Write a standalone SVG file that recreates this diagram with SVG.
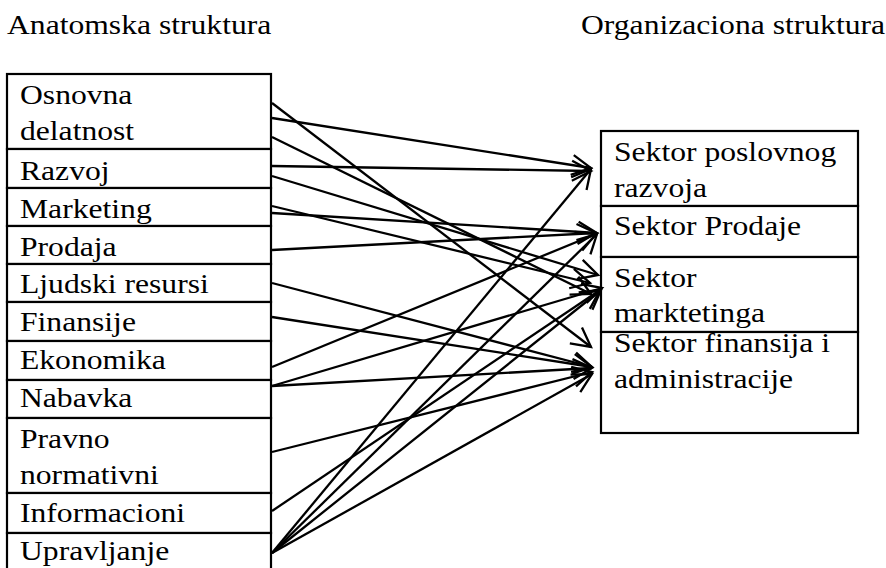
<svg xmlns="http://www.w3.org/2000/svg" width="886" height="568" viewBox="0 0 886 568">
  <style>
    .cell { fill: #fff; stroke: #000; stroke-width: 2.2; }
    .conn line { stroke: #000; stroke-width: 2.3; marker-end: url(#arr); }
  </style>
  <defs>
    <marker id="arr" markerUnits="userSpaceOnUse" orient="auto" overflow="visible" refX="0" refY="0" markerWidth="22" markerHeight="22">
      <path d="M-19,-10 L0,0 L-19,10" fill="none" stroke="#000" stroke-width="2.3"/>
    </marker>
  </defs>
  <rect width="886" height="568" fill="#fff"/>

  <g font-family="Liberation Serif, DejaVu Serif, serif" font-size="27.5" fill="#000">
  <!-- column titles -->
  <text transform="matrix(1.15 0 0 1 7 34)">Anatomska struktura</text>
  <text transform="matrix(1.15 0 0 1 581 34)">Organizaciona struktura</text>

  <!-- left column: functional units -->
  <g id="osnovna">
    <rect class="cell" x="7" y="74" width="264" height="75"/>
    <text transform="matrix(1.15 0 0 1 20 104)">Osnovna</text>
    <text transform="matrix(1.15 0 0 1 20 140)">delatnost</text>
  </g>
  <g id="razvoj">
    <rect class="cell" x="7" y="149" width="264" height="39"/>
    <text transform="matrix(1.15 0 0 1 20 180)">Razvoj</text>
  </g>
  <g id="marketing">
    <rect class="cell" x="7" y="188" width="264" height="38"/>
    <text transform="matrix(1.15 0 0 1 20 218)">Marketing</text>
  </g>
  <g id="prodaja">
    <rect class="cell" x="7" y="226" width="264" height="38"/>
    <text transform="matrix(1.15 0 0 1 20 256)">Prodaja</text>
  </g>
  <g id="ljudski">
    <rect class="cell" x="7" y="264" width="264" height="38"/>
    <text transform="matrix(1.15 0 0 1 20 293)">Ljudski resursi</text>
  </g>
  <g id="finansije">
    <rect class="cell" x="7" y="302" width="264" height="39"/>
    <text transform="matrix(1.15 0 0 1 20 331)">Finansije</text>
  </g>
  <g id="ekonomika">
    <rect class="cell" x="7" y="341" width="264" height="39"/>
    <text transform="matrix(1.15 0 0 1 20 369)">Ekonomika</text>
  </g>
  <g id="nabavka">
    <rect class="cell" x="7" y="380" width="264" height="38"/>
    <text transform="matrix(1.15 0 0 1 20 407)">Nabavka</text>
  </g>
  <g id="pravno">
    <rect class="cell" x="7" y="418" width="264" height="75"/>
    <text transform="matrix(1.15 0 0 1 20 448)">Pravno</text>
    <text transform="matrix(1.15 0 0 1 20 484)">normativni</text>
  </g>
  <g id="informacioni">
    <rect class="cell" x="7" y="493" width="264" height="40"/>
    <text transform="matrix(1.15 0 0 1 20 522)">Informacioni</text>
  </g>
  <g id="upravljanje">
    <rect class="cell" x="7" y="533" width="264" height="45"/>
    <text transform="matrix(1.15 0 0 1 20 560)">Upravljanje</text>
  </g>

  <!-- right column: sectors -->
  <g id="sektor-razvoj">
    <rect class="cell" x="601" y="131" width="257" height="75"/>
    <text transform="matrix(1.15 0 0 1 614 161)">Sektor poslovnog</text>
    <text transform="matrix(1.15 0 0 1 614 197)">razvoja</text>
  </g>
  <g id="sektor-prodaja">
    <rect class="cell" x="601" y="206" width="257" height="51"/>
    <text transform="matrix(1.15 0 0 1 614 235)">Sektor Prodaje</text>
  </g>
  <g id="sektor-marketing">
    <rect class="cell" x="601" y="257" width="257" height="75"/>
    <text transform="matrix(1.15 0 0 1 614 287)">Sektor</text>
    <text transform="matrix(1.15 0 0 1 614 322)">marktetinga</text>
  </g>
  <g id="sektor-finansije">
    <rect class="cell" x="601" y="332" width="257" height="101"/>
    <text transform="matrix(1.15 0 0 1 614 352)">Sektor finansija i</text>
    <text transform="matrix(1.15 0 0 1 614 388)">administracije</text>
  </g>
  </g>

  <!-- mapping arrows -->
  <g id="connectors" class="conn">
    <line x1="272" y1="103" x2="591" y2="347"/>
    <line x1="272" y1="118" x2="591" y2="168"/>
    <line x1="272" y1="137" x2="591" y2="294"/>
    <line x1="272" y1="166" x2="591" y2="171"/>
    <line x1="272" y1="176" x2="598" y2="275"/>
    <line x1="272" y1="206" x2="590" y2="283"/>
    <line x1="272" y1="213" x2="597" y2="233"/>
    <line x1="272" y1="250" x2="596" y2="233"/>
    <line x1="272" y1="283" x2="592" y2="367"/>
    <line x1="272" y1="317" x2="592" y2="367"/>
    <line x1="272" y1="367" x2="596" y2="234"/>
    <line x1="272" y1="386" x2="592" y2="368"/>
    <line x1="272" y1="386" x2="602" y2="288"/>
    <line x1="272" y1="452" x2="592" y2="372"/>
    <line x1="272" y1="511" x2="600" y2="290"/>
    <line x1="272" y1="553" x2="591" y2="169"/>
    <line x1="272" y1="553" x2="597" y2="234"/>
    <line x1="272" y1="553" x2="601" y2="290"/>
    <line x1="272" y1="553" x2="592" y2="374"/>
  </g>
</svg>
